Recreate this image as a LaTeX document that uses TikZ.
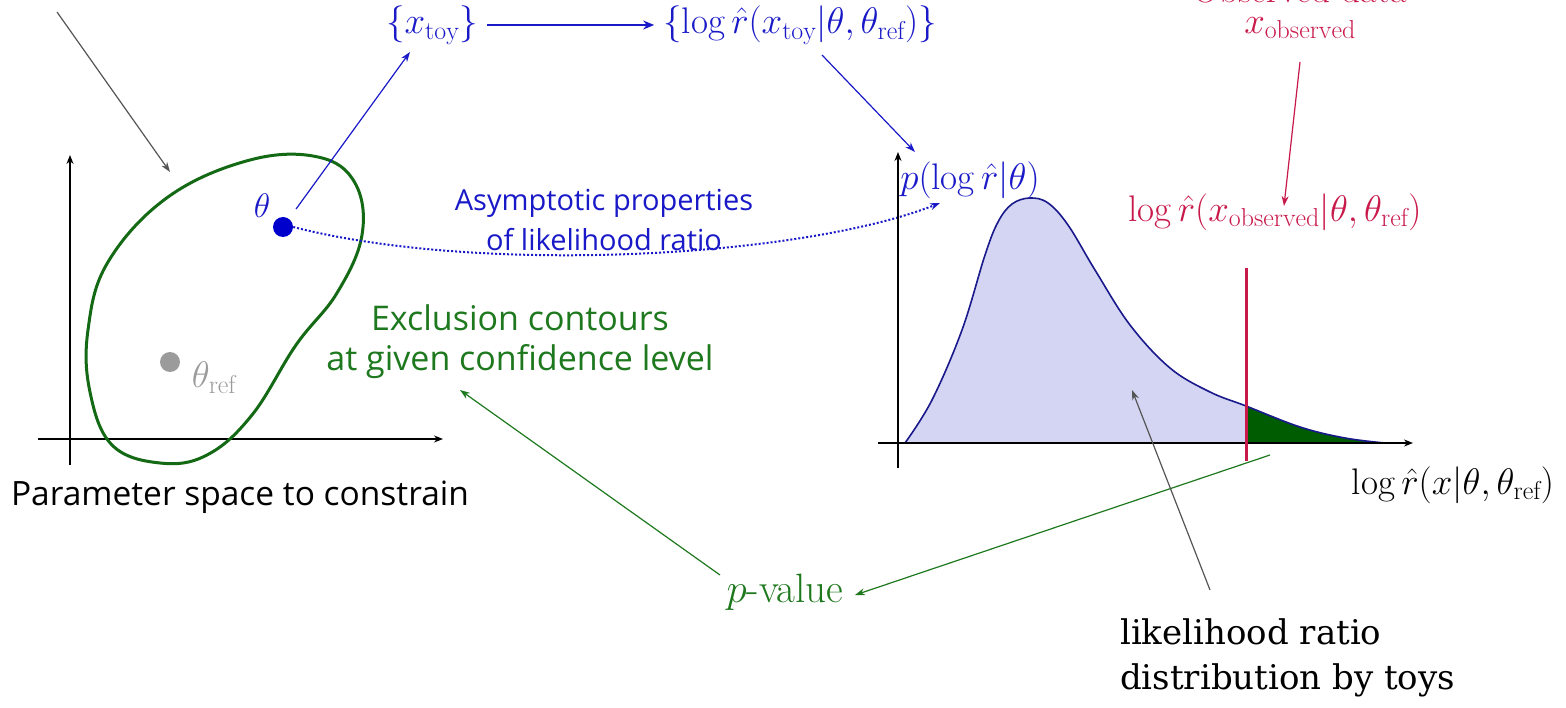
\RequirePackage{fix-cm}
\documentclass[tikz,border=0pt]{standalone}
\usepackage{fontspec}
\newfontfamily\osans{Open Sans}
\newfontfamily\dserif{DejaVu Serif}
\usetikzlibrary{arrows.meta}
\definecolor{tblue}{RGB}{25,25,200}
\definecolor{dotblue}{RGB}{0,0,205}
\definecolor{tgreen}{RGB}{30,120,30}
\definecolor{cgreen}{RGB}{20,105,20}
\definecolor{tailgreen}{RGB}{0,92,0}
\definecolor{tred}{RGB}{200,25,75}
\definecolor{lav}{RGB}{211,213,242}
\definecolor{curveblue}{RGB}{25,25,140}
\definecolor{arrgray}{RGB}{85,85,85}
\definecolor{refgray}{RGB}{155,155,155}
\begin{document}
\begin{tikzpicture}[x=1pt,y=-1pt,
  mathtxt/.style={font=\fontsize{37}{42}\selectfont, inner sep=0pt},
  sanstxt/.style={font=\osans\fontsize{29}{40}\selectfont, align=center, inner sep=0pt},
  axisline/.style={black, line width=1.3pt, -{Stealth[length=9pt,width=7pt]}},
  thinarrow/.style={line width=1.2pt, -{Stealth[length=10pt,width=7pt]}},
  thickarrow/.style={line width=2.5pt, -{Stealth[length=11pt,width=9pt]}},
  dotnode/.style={circle, inner sep=0pt, minimum size=20pt}]
\useasboundingbox (0,0) rectangle (1566,708);

% ---------- left panel ----------
\draw[axisline] (70,465) -- (70,155);
\draw[axisline] (38,439) -- (443,439);
\draw[cgreen, line width=3pt] plot[smooth cycle, tension=0.65] coordinates
  {(160,463) (112,445) (90,392) (88,330) (108,262) (168,197) (250,160) (318,157) (355,183) (362,235) (337,293) (296,345) (252,415) (207,455)};
\node[dotnode, fill=dotblue] (theta) at (283,227) {};
\node[mathtxt, text=tblue, font=\fontsize{34}{38}\selectfont] (thetalab) at (262,206) {$\theta$};
\node[dotnode, fill=refgray] (thetaref) at (170,362) {};
\node[mathtxt, text=refgray] (thetareflab) at (214,378) {$\theta_{\mathrm{ref}}$};
\node[font=\osans\fontsize{33.5}{40}\selectfont, inner sep=0pt] (pspace) at (240,497) {Parameter space to constrain};
\coordinate (graysrc) at (57,12);
\coordinate (graytip) at (170,172);
\draw[thinarrow, arrgray] (graysrc) -- (graytip);

% ---------- top row ----------
\node[mathtxt, text=tblue] (xtoy) at (432,25) {$\{x_{\mathrm{toy}}\}$};
\node[mathtxt, text=tblue] (logrtoy) at (800,25) {$\{\log\hat r(x_{\mathrm{toy}}|\theta,\theta_{\mathrm{ref}})\}$};
\coordinate (xtoyin) at (410,52);
\draw[thinarrow, tblue, shorten <=12pt] (theta) -- (xtoyin);
\draw[thickarrow, tblue, shorten <=9pt, shorten >=9pt] (xtoy.east) -- (logrtoy.west);
\coordinate (ltout) at (822,55);
\coordinate (pin) at (915,152);
\draw[thinarrow, tblue] (ltout) -- (pin);

% ---------- middle texts ----------
\node[sanstxt, text=tblue] (asym) at (604,220) {Asymptotic properties\\of likelihood ratio};
\node[sanstxt, text=tgreen, font=\osans\fontsize{34}{40}\selectfont] (excl) at (520,342) {Exclusion contours\\at given confidence level};
\coordinate (dotin) at (940,203);
\draw[tblue, line width=2pt, dotted, -{Stealth[length=10pt,width=7pt]}]
  (theta.east) .. controls (480,275) and (800,258) .. (dotin);

% ---------- right panel ----------
\def\distcurve{plot[smooth, tension=0.6] coordinates {(905,443) (932,400) (962,330) (985,255) (998,222) (1012,204) (1030,198) (1048,203) (1068,225) (1095,270) (1130,325) (1170,368) (1210,392) (1246,406) (1300,427) (1345,438) (1385,443)}}
\fill[lav] \distcurve -- cycle;
\begin{scope}
  \clip (1246,300) rectangle (1400,444);
  \fill[tailgreen] \distcurve -- cycle;
\end{scope}
\draw[curveblue, line width=1.6pt] (905,443) -- (1385,443);
\draw[curveblue, line width=1.6pt] \distcurve;
\draw[axisline] (898,468) -- (898,152);
\draw[axisline] (878,443) -- (1413,443);
\coordinate (redtop) at (1246,268);
\coordinate (redbot) at (1246,461);
\draw[tred, line width=3pt] (redtop) -- (redbot);
\node[mathtxt, text=tblue] (plab) at (970,180) {$p(\log\hat r|\theta)$};
\node[mathtxt, text=tred] (logrobs) at (1275,212) {$\log\hat r(x_{\mathrm{observed}}|\theta,\theta_{\mathrm{ref}})$};
\node[mathtxt, text=tred] (xobs) at (1300,28) {$x_{\mathrm{observed}}$};
\node[font=\fontsize{37}{42}\selectfont, text=tred, inner sep=0pt] (obsdata) at (1300,-10) {Observed data};
\coordinate (obsout) at (1300,62);
\coordinate (obsin) at (1284,206);
\draw[thinarrow, tred] (obsout) -- (obsin);
\node[mathtxt] (xlab) at (1453,485) {$\log\hat r(x|\theta,\theta_{\mathrm{ref}})$};

% ---------- bottom ----------
\node[mathtxt, text=tgreen, font=\fontsize{41}{46}\selectfont] (pvalue) at (785,592) {$p$-value};
\coordinate (pvout) at (720,575);
\coordinate (exclin) at (460,390);
\draw[thinarrow, tgreen] (pvout) -- (exclin);
\coordinate (tailout) at (1270,455);
\coordinate (pvin) at (855,595);
\draw[thinarrow, tgreen] (tailout) -- (pvin);
\node[font=\dserif\fontsize{34}{45}\selectfont, align=left, inner sep=0pt, anchor=west] (lrd) at (1120,658) {likelihood ratio\\distribution by toys};
\coordinate (lrdout) at (1210,590);
\coordinate (lrdin) at (1132,390);
\draw[thinarrow, arrgray] (lrdout) -- (lrdin);
\end{tikzpicture}
\end{document}
